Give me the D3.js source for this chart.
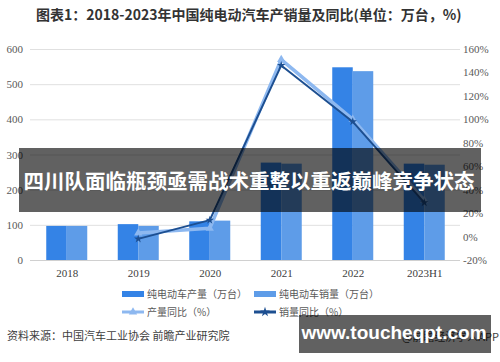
<!DOCTYPE html>
<html>
<head>
<meta charset="utf-8">
<script src="https://cdn.jsdelivr.net/npm/d3@7"></script>
<style>
  body { margin: 0; background: #fff; }
  svg { display: block; }
</style>
</head>
<body>
<div id="chart"></div>
<script>
//chart data
let categories = ["2018", "2019", "2020", "2021", "2022", "2023H1"];
let production = [97, 102, 110, 277, 548, 274];
let sales = [97, 97, 112, 274, 537, 271];
let productionYoy = [null, 3, 7, 151, 100, 31];
let salesYoy = [null, -2, 14, 146, 98, 29];
let leftTicks = [0, 100, 200, 300, 400, 500, 600];
let rightTicks = [-20, 0, 20, 40, 60, 80, 100, 120, 140, 160];

//size
let svgWidth = 500;
let svgHeight = 362;
let plot = { left: 31, right: 460, top: 49, bottom: 260 };

let cjk = "'Noto Sans CJK SC', 'Noto Sans', sans-serif";
let serif = "'Liberation Serif', 'DejaVu Serif', serif";

let svg = d3.select("#chart")
    .append("svg")
    .attr("width", svgWidth)
    .attr("height", svgHeight);

//scales
let x = d3.scalePoint().domain(categories).range([plot.left, plot.right]).padding(0.5);
let xBar = d3.scaleBand().domain(["production", "sales"]).range([-20.5, 20.5]);
let y = d3.scaleLinear().domain([0, 600]).range([plot.bottom, plot.top]);
let y2 = d3.scaleLinear().domain([-20, 160]).range([plot.bottom, plot.top]);

//title
svg.append("text")
    .attr("x", 36)
    .attr("y", 20)
    .style("font-family", cjk)
    .style("font-size", "14px")
    .style("font-weight", "bold")
    .style("fill", "#333")
    .text("图表1：2018-2023年中国纯电动汽车产销量及同比(单位：万台，%)");

//grid lines
svg.append("g")
    .selectAll("line")
    .data(leftTicks)
    .enter()
    .append("line")
    .attr("x1", plot.left - 1)
    .attr("x2", plot.right)
    .attr("y1", d => y(d) + 0.5)
    .attr("y2", d => y(d) + 0.5)
    .style("stroke", d => d === 0 ? "#d0d0d0" : "#e0e0e0")
    .style("stroke-width", 1);

//left axis
let leftAxis = d3.axisLeft(y).tickValues(leftTicks).tickSize(0).tickPadding(8);
svg.append("g")
    .attr("transform", "translate(" + plot.left + ",0)")
    .call(leftAxis)
    .call(g => g.select(".domain").remove())
    .selectAll("text")
    .style("font-family", serif)
    .style("font-size", "11px")
    .style("fill", "#595959");

//right axis
let rightAxis = d3.axisRight(y2).tickValues(rightTicks).tickSize(0).tickPadding(3)
    .tickFormat(d => d + "%");
svg.append("g")
    .attr("transform", "translate(" + plot.right + ",0)")
    .call(rightAxis)
    .call(g => g.select(".domain").remove())
    .selectAll("text")
    .style("font-family", serif)
    .style("font-size", "11px")
    .style("fill", "#595959");

//bottom axis
let bottomAxis = d3.axisBottom(x).tickSize(0).tickPadding(9);
svg.append("g")
    .attr("transform", "translate(0," + plot.bottom + ")")
    .call(bottomAxis)
    .call(g => g.select(".domain").remove())
    .selectAll("text")
    .style("font-family", serif)
    .style("font-size", "11px")
    .style("fill", "#404040");

//bars
let barColors = { production: "#3483e6", sales: "#5e9ce8" };
let barData = categories.map((c, i) => ({ cat: c, production: production[i], sales: sales[i] }));

["production", "sales"].forEach(key => {
    svg.append("g")
        .selectAll("rect")
        .data(barData)
        .enter()
        .append("rect")
        .attr("x", d => x(d.cat) + xBar(key))
        .attr("y", d => y(d[key]))
        .attr("width", xBar.bandwidth())
        .attr("height", d => y(0) - y(d[key]))
        .style("fill", barColors[key]);
});

//lines
let lineData = (arr) => categories.map((c, i) => ({ cat: c, v: arr[i] })).filter(d => d.v !== null);
let yoyLine = d3.line().x(d => x(d.cat)).y(d => y2(d.v));

svg.append("path")
    .attr("d", yoyLine(lineData(productionYoy)))
    .style("fill", "none")
    .style("stroke", "#8db8f0")
    .style("stroke-width", 3.5)
    .style("stroke-linejoin", "round");

svg.selectAll("path.pmark")
    .data(lineData(productionYoy))
    .enter()
    .append("path")
    .attr("class", "pmark")
    .attr("transform", d => "translate(" + x(d.cat) + "," + y2(d.v) + ")")
    .attr("d", d3.symbol().type(d3.symbolTriangle).size(30))
    .style("fill", "#8db8f0");

svg.append("path")
    .attr("d", yoyLine(lineData(salesYoy)))
    .style("fill", "none")
    .style("stroke", "#1d4f91")
    .style("stroke-width", 2)
    .style("stroke-linejoin", "round");

svg.selectAll("path.smark")
    .data(lineData(salesYoy))
    .enter()
    .append("path")
    .attr("class", "smark")
    .attr("transform", d => "translate(" + x(d.cat) + "," + y2(d.v) + ")")
    .attr("d", d3.symbol().type(d3.symbolStar).size(22))
    .style("fill", "#1d4f91");

//legend
let legendItems = [
    { label: "纯电动车产量（万台）", type: "bar", color: barColors.production, x: 122, y: 294 },
    { label: "纯电动车销量（万台）", type: "bar", color: barColors.sales, x: 254, y: 294 },
    { label: "产量同比（%）", type: "line", color: "#8db8f0", symbol: d3.symbolTriangle, x: 122, y: 312 },
    { label: "销量同比（%）", type: "line", color: "#1d4f91", symbol: d3.symbolStar, x: 254, y: 312 }
];

let legend = svg.append("g");
legendItems.forEach(item => {
    if (item.type === "bar") {
        legend.append("rect")
            .attr("x", item.x).attr("y", item.y - 3)
            .attr("width", 22).attr("height", 6)
            .style("fill", item.color);
    } else {
        legend.append("line")
            .attr("x1", item.x).attr("x2", item.x + 22)
            .attr("y1", item.y).attr("y2", item.y)
            .style("stroke", item.color).style("stroke-width", 3);
        legend.append("path")
            .attr("transform", "translate(" + (item.x + 11) + "," + item.y + ")")
            .attr("d", d3.symbol().type(item.symbol).size(30))
            .style("fill", item.color);
    }
    legend.append("text")
        .attr("x", item.x + 25)
        .attr("y", item.y)
        .attr("dy", "0.35em")
        .style("font-family", cjk)
        .style("font-size", "10px")
        .style("fill", "#595959")
        .text(item.label);
});

//source note
svg.append("text")
    .attr("x", 7)
    .attr("y", 336)
    .attr("dy", "0.35em")
    .style("font-family", cjk)
    .style("font-size", "11px")
    .style("fill", "#404040")
    .text("资料来源：中国汽车工业协会 前瞻产业研究院");

svg.append("text")
    .attr("x", 499)
    .attr("y", 337)
    .attr("dy", "0.35em")
    .attr("text-anchor", "end")
    .style("font-family", cjk)
    .style("font-size", "11px")
    .style("fill", "#404040")
    .text("@前瞻经济学人APP");

//overlay banners
svg.append("rect")
    .attr("x", 19).attr("y", 148)
    .attr("width", 462).attr("height", 64)
    .style("fill", "rgba(0,0,0,0.62)");

svg.append("text")
    .attr("x", 249)
    .attr("y", 182)
    .attr("dy", "0.35em")
    .attr("text-anchor", "middle")
    .style("font-family", cjk)
    .style("font-size", "20.5px")
    .style("font-weight", "bold")
    .style("fill", "#fff")
    .text("四川队面临瓶颈亟需战术重整以重返巅峰竞争状态");

svg.append("rect")
    .attr("x", 299).attr("y", 315)
    .attr("width", 192).attr("height", 38)
    .style("fill", "rgba(0,0,0,0.62)");

svg.append("text")
    .attr("x", 394)
    .attr("y", 332)
    .attr("dy", "0.35em")
    .attr("text-anchor", "middle")
    .style("font-family", "'Liberation Sans', Arial, sans-serif")
    .style("font-size", "19px")
    .style("font-weight", "bold")
    .style("fill", "#fff")
    .text("www.toucheqpt.com");
</script>
</body>
</html>
